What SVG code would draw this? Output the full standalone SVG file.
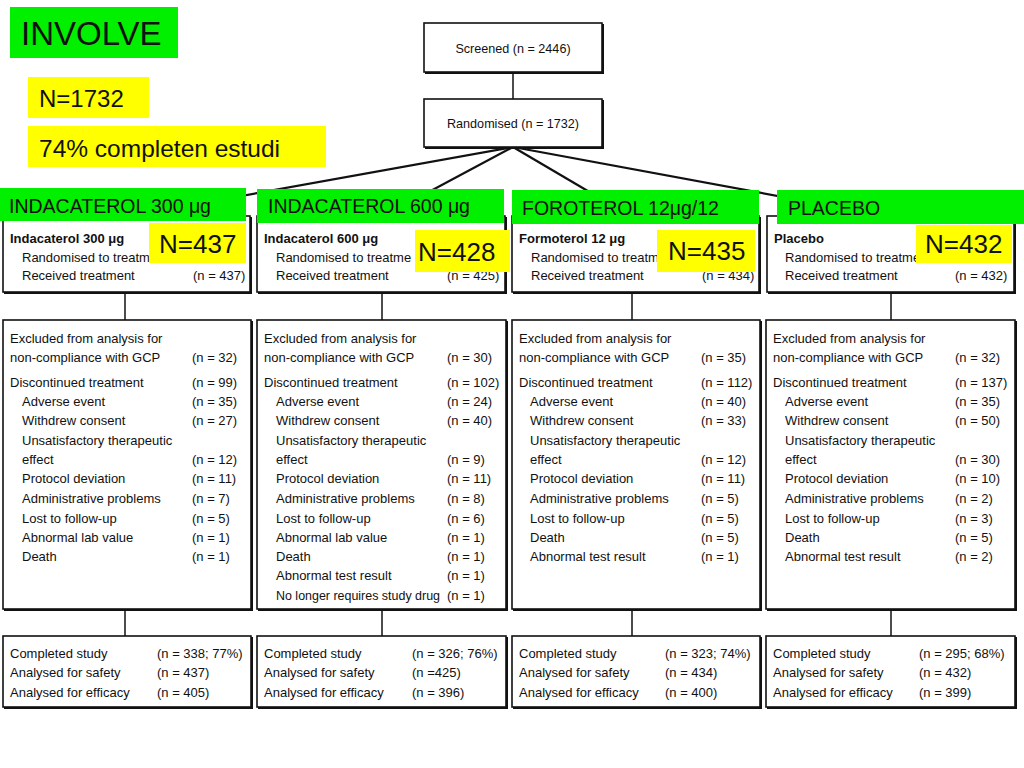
<svg xmlns="http://www.w3.org/2000/svg" width="1024" height="768" viewBox="0 0 1024 768">
<style>
text{font-family:"Liberation Sans",Arial,Helvetica,sans-serif;fill:#111}
.s{font-size:13px}
.b{font-size:13px;font-weight:bold}
.box{fill:#fff;stroke:#111;stroke-width:1.6}
.sh{fill:none;stroke:#111;stroke-width:2}
#connectors line{stroke:#111;stroke-width:1.5}
#connectors .fan{stroke-width:2.2}
.green{fill:#00f000}
.yellow{fill:#ffff00}
.lbl{font-size:19.5px}
.big{font-size:26px}
.c{text-anchor:middle}
</style>
<rect width="1024" height="768" fill="#fff"/>

<g id="connectors">
  <line x1="513" y1="72" x2="513" y2="99"/>
  <line class="fan" x1="513" y1="147" x2="125" y2="217"/>
  <line class="fan" x1="513" y1="147" x2="382" y2="217"/>
  <line class="fan" x1="513" y1="147" x2="632" y2="217"/>
  <line class="fan" x1="513" y1="147" x2="891" y2="217"/>
  <line x1="125" y1="292" x2="125" y2="320"/>
  <line x1="382" y1="292" x2="382" y2="320"/>
  <line x1="632" y1="292" x2="632" y2="320"/>
  <line x1="891" y1="292" x2="891" y2="320"/>
  <line x1="125" y1="609" x2="125" y2="636"/>
  <line x1="382" y1="609" x2="382" y2="636"/>
  <line x1="632" y1="609" x2="632" y2="636"/>
  <line x1="891" y1="609" x2="891" y2="636"/>
</g>

<g id="title">
  <rect class="green" x="10" y="7" width="168" height="51"/>
  <text x="21" y="45" style="font-size:33px">INVOLVE</text>
</g>
<g id="n-total">
  <rect class="yellow" x="28" y="77" width="121" height="41"/>
  <text x="39" y="107" style="font-size:24px">N=1732</text>
</g>
<g id="completion">
  <rect class="yellow" x="28" y="126" width="298" height="41"/>
  <text x="39" y="157" style="font-size:24.5px">74% completen estudi</text>
</g>

<g id="screened">
  <rect class="box" x="424" y="23" width="178" height="49"/>
  <path class="sh" d="M603 24V73H425"/>
  <text class="s c" x="513" y="53" style="font-size:12.6px">Screened (n = 2446)</text>
</g>
<g id="randomised">
  <rect class="box" x="424" y="99" width="178" height="48"/>
  <path class="sh" d="M603 100V148H425"/>
  <text class="s c" x="513" y="128" style="font-size:12.6px">Randomised (n = 1732)</text>
</g>

<!-- Column 1 -->
<g id="arm1-top">
  <rect class="box" x="3" y="216" width="247" height="76"/>
  <path class="sh" d="M251 217V293H4"/>
  <text class="b" x="10" y="243">Indacaterol 300 μg</text>
  <text class="s" x="22" y="262">Randomised to treatm</text>
  <text class="s" x="22" y="280">Received treatment</text>
  <text class="s" x="193" y="280">(n = 437)</text>
</g>
<g id="arm1-label">
  <rect class="green" x="0" y="188" width="246" height="33"/>
  <text class="lbl" x="9" y="213">INDACATEROL 300 μg</text>
  <rect class="yellow" x="149" y="223" width="97" height="40"/>
  <text class="big" x="159" y="253">N=437</text>
</g>
<g id="arm1-discontinued">
  <rect class="box" x="3" y="320" width="248" height="289"/>
  <path class="sh" d="M252 321V610H4"/>
  <text class="s" x="10" y="343">Excluded from analysis for</text>
  <text class="s" x="10" y="362">non-compliance with GCP</text><text class="s" x="192" y="362">(n = 32)</text>
  <text class="s" x="10" y="387">Discontinued treatment</text><text class="s" x="192" y="387">(n = 99)</text>
  <text class="s" x="22" y="406">Adverse event</text><text class="s" x="192" y="406">(n = 35)</text>
  <text class="s" x="22" y="425">Withdrew consent</text><text class="s" x="192" y="425">(n = 27)</text>
  <text class="s" x="22" y="445">Unsatisfactory therapeutic</text>
  <text class="s" x="22" y="464">effect</text><text class="s" x="192" y="464">(n = 12)</text>
  <text class="s" x="22" y="483">Protocol deviation</text><text class="s" x="192" y="483">(n = 11)</text>
  <text class="s" x="22" y="503">Administrative problems</text><text class="s" x="192" y="503">(n = 7)</text>
  <text class="s" x="22" y="523">Lost to follow-up</text><text class="s" x="192" y="523">(n = 5)</text>
  <text class="s" x="22" y="542">Abnormal lab value</text><text class="s" x="192" y="542">(n = 1)</text>
  <text class="s" x="22" y="561">Death</text><text class="s" x="192" y="561">(n = 1)</text>
</g>
<g id="arm1-completed">
  <rect class="box" x="3" y="636" width="248" height="71"/>
  <path class="sh" d="M252 637V708H4"/>
  <text class="s" x="10" y="658">Completed study</text><text class="s" x="157" y="658">(n = 338; 77%)</text>
  <text class="s" x="10" y="677">Analysed for safety</text><text class="s" x="157" y="677">(n = 437)</text>
  <text class="s" x="10" y="697">Analysed for efficacy</text><text class="s" x="157" y="697">(n = 405)</text>
</g>

<!-- Column 2 -->
<g id="arm2-top">
  <rect class="box" x="257" y="216" width="248" height="76"/>
  <path class="sh" d="M506 217V293H258"/>
  <text class="b" x="264" y="243">Indacaterol 600 μg</text>
  <text class="s" x="276" y="262">Randomised to treatme</text>
  <text class="s" x="276" y="280">Received treatment</text>
  <text class="s" x="447" y="280">(n = 425)</text>
</g>
<g id="arm2-label">
  <rect class="green" x="257" y="189" width="247" height="34"/>
  <text class="lbl" x="268" y="213">INDACATEROL 600 μg</text>
  <rect class="yellow" x="415" y="230" width="95" height="42"/>
  <text class="big" x="418" y="261">N=428</text>
</g>
<g id="arm2-discontinued">
  <rect class="box" x="257" y="320" width="249" height="289"/>
  <path class="sh" d="M507 321V610H258"/>
  <text class="s" x="264" y="343">Excluded from analysis for</text>
  <text class="s" x="264" y="362">non-compliance with GCP</text><text class="s" x="447" y="362">(n = 30)</text>
  <text class="s" x="264" y="387">Discontinued treatment</text><text class="s" x="447" y="387">(n = 102)</text>
  <text class="s" x="276" y="406">Adverse event</text><text class="s" x="447" y="406">(n = 24)</text>
  <text class="s" x="276" y="425">Withdrew consent</text><text class="s" x="447" y="425">(n = 40)</text>
  <text class="s" x="276" y="445">Unsatisfactory therapeutic</text>
  <text class="s" x="276" y="464">effect</text><text class="s" x="447" y="464">(n = 9)</text>
  <text class="s" x="276" y="483">Protocol deviation</text><text class="s" x="447" y="483">(n = 11)</text>
  <text class="s" x="276" y="503">Administrative problems</text><text class="s" x="447" y="503">(n = 8)</text>
  <text class="s" x="276" y="523">Lost to follow-up</text><text class="s" x="447" y="523">(n = 6)</text>
  <text class="s" x="276" y="542">Abnormal lab value</text><text class="s" x="447" y="542">(n = 1)</text>
  <text class="s" x="276" y="561">Death</text><text class="s" x="447" y="561">(n = 1)</text>
  <text class="s" x="276" y="580">Abnormal test result</text><text class="s" x="447" y="580">(n = 1)</text>
  <text class="s" x="276" y="600" textLength="164" lengthAdjust="spacingAndGlyphs">No longer requires study drug</text><text class="s" x="447" y="600">(n = 1)</text>
</g>
<g id="arm2-completed">
  <rect class="box" x="257" y="636" width="249" height="71"/>
  <path class="sh" d="M507 637V708H258"/>
  <text class="s" x="264" y="658">Completed study</text><text class="s" x="412" y="658">(n = 326; 76%)</text>
  <text class="s" x="264" y="677">Analysed for safety</text><text class="s" x="412" y="677">(n =425)</text>
  <text class="s" x="264" y="697">Analysed for efficacy</text><text class="s" x="412" y="697">(n = 396)</text>
</g>

<!-- Column 3 -->
<g id="arm3-top">
  <rect class="box" x="512" y="216" width="247" height="76"/>
  <path class="sh" d="M760 217V293H513"/>
  <text class="b" x="519" y="243">Formoterol 12 μg</text>
  <text class="s" x="531" y="262">Randomised to treatm</text>
  <text class="s" x="531" y="280">Received treatment</text>
  <text class="s" x="702" y="280">(n = 434)</text>
</g>
<g id="arm3-label">
  <rect class="green" x="512" y="190" width="247" height="34"/>
  <text class="lbl" x="522" y="215">FOROTEROL 12μg/12</text>
  <rect class="yellow" x="657" y="230" width="98" height="42"/>
  <text class="big" x="668" y="260">N=435</text>
</g>
<g id="arm3-discontinued">
  <rect class="box" x="512" y="320" width="248" height="289"/>
  <path class="sh" d="M761 321V610H513"/>
  <text class="s" x="519" y="343">Excluded from analysis for</text>
  <text class="s" x="519" y="362">non-compliance with GCP</text><text class="s" x="701" y="362">(n = 35)</text>
  <text class="s" x="519" y="387">Discontinued treatment</text><text class="s" x="701" y="387">(n = 112)</text>
  <text class="s" x="530" y="406">Adverse event</text><text class="s" x="701" y="406">(n = 40)</text>
  <text class="s" x="530" y="425">Withdrew consent</text><text class="s" x="701" y="425">(n = 33)</text>
  <text class="s" x="530" y="445">Unsatisfactory therapeutic</text>
  <text class="s" x="530" y="464">effect</text><text class="s" x="701" y="464">(n = 12)</text>
  <text class="s" x="530" y="483">Protocol deviation</text><text class="s" x="701" y="483">(n = 11)</text>
  <text class="s" x="530" y="503">Administrative problems</text><text class="s" x="701" y="503">(n = 5)</text>
  <text class="s" x="530" y="523">Lost to follow-up</text><text class="s" x="701" y="523">(n = 5)</text>
  <text class="s" x="530" y="542">Death</text><text class="s" x="701" y="542">(n = 5)</text>
  <text class="s" x="530" y="561">Abnormal test result</text><text class="s" x="701" y="561">(n = 1)</text>
</g>
<g id="arm3-completed">
  <rect class="box" x="512" y="636" width="248" height="71"/>
  <path class="sh" d="M761 637V708H513"/>
  <text class="s" x="519" y="658">Completed study</text><text class="s" x="665" y="658">(n = 323; 74%)</text>
  <text class="s" x="519" y="677">Analysed for safety</text><text class="s" x="665" y="677">(n = 434)</text>
  <text class="s" x="519" y="697">Analysed for efficacy</text><text class="s" x="665" y="697">(n = 400)</text>
</g>

<!-- Column 4 -->
<g id="arm4-top">
  <rect class="box" x="767" y="216" width="247" height="76"/>
  <path class="sh" d="M1015 217V293H768"/>
  <text class="b" x="774" y="243">Placebo</text>
  <text class="s" x="785" y="262">Randomised to treatme</text>
  <text class="s" x="785" y="280">Received treatment</text>
  <text class="s" x="955" y="280">(n = 432)</text>
</g>
<g id="arm4-label">
  <rect class="green" x="777" y="190" width="247" height="34"/>
  <text class="lbl" x="788" y="215">PLACEBO</text>
  <rect class="yellow" x="916" y="225" width="96" height="38"/>
  <text class="big" x="925" y="253">N=432</text>
</g>
<g id="arm4-discontinued">
  <rect class="box" x="766" y="320" width="249" height="289"/>
  <path class="sh" d="M1016 321V610H767"/>
  <text class="s" x="773" y="343">Excluded from analysis for</text>
  <text class="s" x="773" y="362">non-compliance with GCP</text><text class="s" x="955" y="362">(n = 32)</text>
  <text class="s" x="773" y="387">Discontinued treatment</text><text class="s" x="955" y="387">(n = 137)</text>
  <text class="s" x="785" y="406">Adverse event</text><text class="s" x="955" y="406">(n = 35)</text>
  <text class="s" x="785" y="425">Withdrew consent</text><text class="s" x="955" y="425">(n = 50)</text>
  <text class="s" x="785" y="445">Unsatisfactory therapeutic</text>
  <text class="s" x="785" y="464">effect</text><text class="s" x="955" y="464">(n = 30)</text>
  <text class="s" x="785" y="483">Protocol deviation</text><text class="s" x="955" y="483">(n = 10)</text>
  <text class="s" x="785" y="503">Administrative problems</text><text class="s" x="955" y="503">(n = 2)</text>
  <text class="s" x="785" y="523">Lost to follow-up</text><text class="s" x="955" y="523">(n = 3)</text>
  <text class="s" x="785" y="542">Death</text><text class="s" x="955" y="542">(n = 5)</text>
  <text class="s" x="785" y="561">Abnormal test result</text><text class="s" x="955" y="561">(n = 2)</text>
</g>
<g id="arm4-completed">
  <rect class="box" x="766" y="636" width="249" height="71"/>
  <path class="sh" d="M1016 637V708H767"/>
  <text class="s" x="773" y="658">Completed study</text><text class="s" x="919" y="658">(n = 295; 68%)</text>
  <text class="s" x="773" y="677">Analysed for safety</text><text class="s" x="919" y="677">(n = 432)</text>
  <text class="s" x="773" y="697">Analysed for efficacy</text><text class="s" x="919" y="697">(n = 399)</text>
</g>
</svg>
